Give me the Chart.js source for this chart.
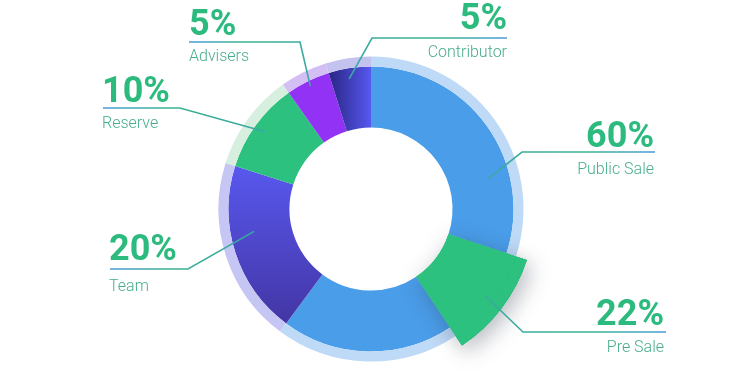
<!DOCTYPE html>
<html><head><meta charset="utf-8">
<script src="https://cdn.jsdelivr.net/npm/chart.js@4/dist/chart.umd.min.js"></script>
<style>html,body{margin:0;padding:0;background:#fff;}#wrap{width:737px;height:383px;}</style>
</head><body><div id="wrap"><canvas id="c" width="737" height="383"></canvas></div>
<script>
// ---- data ----
const segmentNames = ['Public Sale', 'Pre Sale', 'Public Sale', 'Team', 'Reserve', 'Advisers', 'Contributor'];
const segmentValues = [30.0, 10.6, 19.5, 19.7, 10.3, 5.0, 4.8];
const labelNames = ['Public Sale', 'Pre Sale', 'Team', 'Reserve', 'Advisers', 'Contributor'];
const labelPercents = ['60%', '22%', '20%', '10%', '5%', '5%'];
const labelSegments = [0, 1, 3, 4, 5, 6];

// ---- styles ----
const BLUE = '#4a9de9', GREEN = '#2cc17f';
const mainColors = [BLUE, GREEN, BLUE, '#5050e0', GREEN, '#9232f4', '#4848d8'];
const haloColors = ['#bfdaf6', GREEN, '#bfdaf6', '#c6c6f4', '#d6efdf', '#d4bff5', '#c4c3ef'];
const outerColors = ['rgba(0,0,0,0)', GREEN, 'rgba(0,0,0,0)', 'rgba(0,0,0,0)', 'rgba(0,0,0,0)', 'rgba(0,0,0,0)', 'rgba(0,0,0,0)'];
const EXPLODED = 1;

// label layout: anchor fraction along arc, anchor radius, elbow, underline end, text x, baselines
const labelLayout = [
  {f: 0.7, r: 120, elbow: [522, 152], end: 655, align: 'right', tx: 654, py: 147, ly: 174},
  {f: 0.5, r: 143, elbow: [523, 332], end: 666, align: 'right', tx: 664, py: 325, ly: 352},
  {f: 0.6, r: 119, elbow: [188, 269], end: 110, align: 'left', tx: 109, py: 260, ly: 291},
  {f: 0.5, r: 131, elbow: [180, 108], end: 103, align: 'left', tx: 102, py: 102, ly: 128},
  {f: 0.5, r: 137, elbow: [300, 42], end: 189, align: 'left', tx: 189, py: 35, ly: 61},
  {f: 0.45, r: 132, elbow: [372, 38], end: 507, align: 'right', tx: 507, py: 29, ly: 57}
];

function mainColor(ctx) {
  const i = ctx.dataIndex;
  const chart = ctx.chart;
  const ca = chart.chartArea;
  if (!ca) return mainColors[i];
  const cx = (ca.left + ca.right) / 2, cy = (ca.top + ca.bottom) / 2;
  const c = chart.ctx;
  if (i === 3) {
    const g = c.createLinearGradient(0, cy - 55, 0, cy + 115);
    g.addColorStop(0, '#5a5bf4');
    g.addColorStop(1, '#4335a4');
    return g;
  }
  if (i === 6) {
    const g = c.createLinearGradient(cx - 42, 0, cx, 0);
    g.addColorStop(0, '#2a2685');
    g.addColorStop(1, '#5758f0');
    return g;
  }
  return mainColors[i];
}

const explodePlugin = {
  id: 'explode',
  afterDatasetsDraw(chart) {
    const ctx = chart.ctx;
    const pieces = chart.data.datasets.map((d, k) => chart.getDatasetMeta(k).data[EXPLODED]);
    ctx.save();
    ctx.shadowColor = 'rgba(40,50,70,0.35)';
    ctx.shadowBlur = 22;
    ctx.shadowOffsetX = 4;
    ctx.shadowOffsetY = 6;
    pieces.forEach(p => p.draw(ctx));
    ctx.restore();
    ctx.save();
    pieces.forEach(p => p.draw(ctx));
    ctx.restore();
  }
};

const labelPlugin = {
  id: 'calloutLabels',
  afterDraw(chart) {
    const ctx = chart.ctx;
    const meta = chart.getDatasetMeta(2);
    labelLayout.forEach((L, k) => {
      const el = meta.data[labelSegments[k]];
      const a = el.startAngle + L.f * (el.endAngle - el.startAngle);
      const ax = el.x + L.r * Math.cos(a), ay = el.y + L.r * Math.sin(a);
      const g = ctx.createLinearGradient(ax, ay, L.end, L.elbow[1]);
      g.addColorStop(0, '#3aa7a4');
      g.addColorStop(0.6, '#3bb391');
      g.addColorStop(1, '#4a9ad8');
      ctx.save();
      ctx.strokeStyle = g;
      ctx.lineWidth = 1.6;
      ctx.beginPath();
      ctx.moveTo(ax, ay);
      ctx.lineTo(L.elbow[0], L.elbow[1]);
      ctx.lineTo(L.end, L.elbow[1]);
      ctx.stroke();
      ctx.textAlign = L.align;
      ctx.textBaseline = 'alphabetic';
      ctx.fillStyle = '#2dba7e';
      ctx.font = 'bold 36px Roboto, "Noto Sans", sans-serif';
      ctx.fillText(labelPercents[k], L.tx, L.py);
      ctx.fillStyle = '#47ae8b';
      ctx.font = '300 16px Roboto, "Noto Sans", sans-serif';
      ctx.fillText(labelNames[k], L.tx, L.ly);
      ctx.restore();
    });
  }
};

new Chart(document.getElementById('c'), {
  type: 'doughnut',
  data: {
    labels: segmentNames,
    datasets: [
      {data: segmentValues, backgroundColor: outerColors, weight: 11.5, borderWidth: 0, hoverBorderWidth: 0},
      {data: segmentValues, backgroundColor: haloColors, weight: 10, borderWidth: 0, hoverBorderWidth: 0},
      {data: segmentValues, backgroundColor: mainColor, weight: 61, borderWidth: 0, hoverBorderWidth: 0}
    ]
  },
  options: {
    responsive: false,
    animation: false,
    events: [],
    radius: 164,
    cutout: '49.7%',
    hoverOffset: 0,
    layout: {padding: {left: 5, right: 0, top: 35, bottom: 0}},
    plugins: {legend: {display: false}, tooltip: {enabled: false}}
  },
  plugins: [explodePlugin, labelPlugin]
});
</script>
</body></html>
